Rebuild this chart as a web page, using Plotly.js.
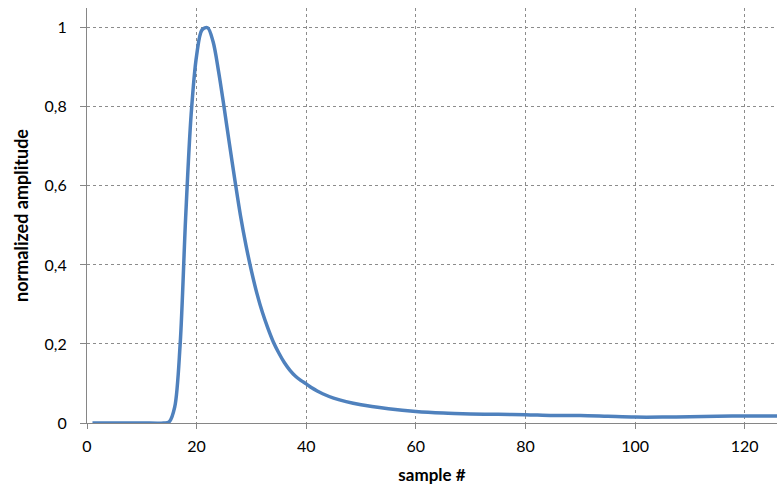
<!DOCTYPE html>
<html>
<head>
<meta charset="utf-8">
<script src="https://cdn.plot.ly/plotly-3.0.1.min.js"></script>
<style>html,body{margin:0;padding:0;background:#fff;}#chart{width:777px;height:485px;}</style>
</head>
<body>
<div id="chart"></div>
<script>
const sampleNumbers = [1,5,10,14,15,16,17,18,19,20,21,22,23,24,25,26,27,28,29,30,31,32,33,34,35,36,37,38,39,40,41,42,43,45,50,55,60,65,70,75,80,85,90,95,100,105,110,115,120,126];
const amplitudes = [0,0,0,0,0.003,0.04,0.2,0.52,0.78,0.93,0.995,1.0,0.965,0.89,0.80,0.705,0.613,0.525,0.45,0.385,0.328,0.28,0.24,0.205,0.177,0.153,0.134,0.119,0.108,0.099,0.089,0.081,0.074,0.063,0.046,0.036,0.029,0.025,0.023,0.022,0.021,0.019,0.019,0.017,0.015,0.015,0.016,0.017,0.018,0.018];
const xTicks = [0,20,40,60,80,100,120];
const yTicks = [0,0.2,0.4,0.6,0.8,1];

const fontFamily = "Lato, 'Open Sans', sans-serif";
const trace = {
  x: sampleNumbers, y: amplitudes, type: 'scatter', mode: 'lines',
  line: {color: '#4F81BD', width: 3.5, shape: 'spline', smoothing: 0.9},
  hoverinfo: 'skip'
};
const layout = {
  width: 777, height: 485,
  margin: {l: 87, r: 0, t: 8, b: 62},
  paper_bgcolor: '#fff', plot_bgcolor: '#fff',
  separators: ', ',
  font: {family: fontFamily, size: 16, color: '#000'},
  showlegend: false,
  xaxis: {
    range: [0, 125.9], tickvals: xTicks, ticks: 'outside', ticklen: 5, tickcolor: '#868686',
    showline: true, linecolor: '#868686', linewidth: 1,
    showgrid: true, gridcolor: '#8c8c8c', griddash: 'dot', gridwidth: 1,
    zeroline: false, ticklabelstandoff: 4,
    title: {text: '<b>sample #</b>', font: {family: fontFamily, size: 17}, standoff: 14}
  },
  yaxis: {
    range: [0, 1.05], tickvals: yTicks, ticks: 'outside', ticklen: 6, tickcolor: '#868686',
    showline: true, linecolor: '#868686', linewidth: 1,
    showgrid: true, gridcolor: '#8c8c8c', griddash: 'dot', gridwidth: 1,
    zeroline: false, ticklabelstandoff: 10,
    title: {text: '<b>normalized amplitude</b>', font: {family: fontFamily, size: 18}, standoff: 11}
  }
};
Plotly.newPlot('chart', [trace], layout, {displayModeBar: false, staticPlot: true});
</script>
</body>
</html>
